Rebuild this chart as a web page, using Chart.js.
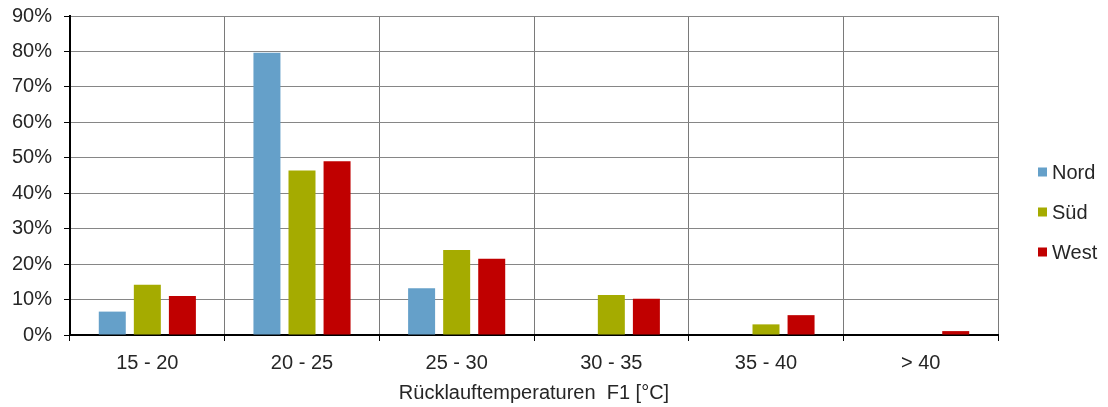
<!DOCTYPE html>
<html><head><meta charset="utf-8">
<script src="https://cdn.jsdelivr.net/npm/chart.js@4/dist/chart.umd.min.js"></script>
<style>html,body{margin:0;padding:0;background:#fff;}#wrap{width:1108px;height:407px;}</style>
</head><body><div id="wrap"><canvas id="c" width="1108" height="407"></canvas></div>
<script>
const categories = ["15 - 20", "20 - 25", "25 - 30", "30 - 35", "35 - 40", "> 40"];
const seriesNames = ["Nord", "Süd", "West"];
const nord = [6.6, 79.6, 13.2, 0, 0, 0];
const sued = [14.2, 46.4, 24.0, 11.3, 3.0, 0];
const west = [11.0, 49.0, 21.5, 10.2, 5.6, 1.1];
const yTicks = [0, 10, 20, 30, 40, 50, 60, 70, 80, 90];
const xTitle = "Rücklauftemperaturen  F1 [°C]";
const colors = ["#65A0C9", "#A5AB00", "#C00000"];

const FONT = "'Liberation Sans', Arial, sans-serif";
const FS = 20;
const legendPlugin = {
  id: 'sideLegend',
  afterDraw(chart) {
    const ctx = chart.ctx;
    ctx.save();
    ctx.font = FS + "px " + FONT;
    ctx.textBaseline = 'middle';
    chart.data.datasets.forEach((ds, i) => {
      const y = 172 + i * 40;
      ctx.fillStyle = ds.backgroundColor;
      ctx.fillRect(1038, y - 4.5, 9, 9);
      ctx.fillStyle = '#262626';
      ctx.fillText(ds.label, 1052, y + 1);
    });
    ctx.restore();
  }
};

new Chart(document.getElementById('c'), {
  type: 'bar',
  data: {
    labels: categories,
    datasets: [
      {label: seriesNames[0], data: nord, backgroundColor: colors[0]},
      {label: seriesNames[1], data: sued, backgroundColor: colors[1]},
      {label: seriesNames[2], data: west, backgroundColor: colors[2]}
    ]
  },
  options: {
    responsive: false,
    animation: false,
    devicePixelRatio: 1,
    layout: {padding: {top: 16, right: 110, left: 0, bottom: 0}},
    datasets: {bar: {categoryPercentage: 0.68, barPercentage: 0.77}},
    plugins: {legend: {display: false}, tooltip: {enabled: false}},
    scales: {
      x: {
        grid: {offset: true, color: '#7a7a7a', lineWidth: 1, tickColor: '#000', tickLength: 6, drawTicks: true},
        border: {color: '#000', width: 2},
        ticks: {color: '#262626', font: {family: FONT, size: FS}, padding: 10},
        title: {display: true, text: xTitle, color: '#262626', font: {family: FONT, size: FS}, padding: {top: 8, bottom: 2}},
        afterFit(s) { s.height = 72; s.paddingLeft = 0; s.paddingRight = 0; }
      },
      y: {
        min: 0, max: 90,
        afterBuildTicks(s) { s.ticks = yTicks.map(v => ({value: v})); },
        grid: {color: '#868686', lineWidth: 1, tickColor: '#000', tickLength: 6},
        border: {color: '#000', width: 2},
        ticks: {color: '#262626', font: {family: FONT, size: FS}, padding: 12, callback: v => v + '%'},
        afterFit(s) { s.width = 70; s.paddingTop = 8; s.paddingBottom = 0; }
      }
    }
  },
  plugins: [legendPlugin]
});
</script></body></html>
